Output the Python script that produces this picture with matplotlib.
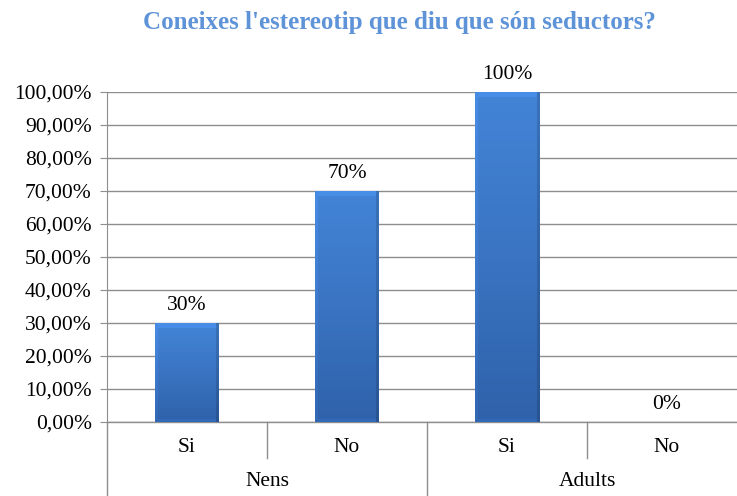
import matplotlib
matplotlib.use("Agg")
import matplotlib.pyplot as plt
import numpy as np
from matplotlib.transforms import blended_transform_factory
from matplotlib.colors import LinearSegmentedColormap

title = "Coneixes l'estereotip que diu que són seductors?"
groups = ["Nens", "Adults"]
subcats = ["Si", "No", "Si", "No"]
values = [30, 70, 100, 0]
value_labels = ["30%", "70%", "100%", "0%"]
yticks = [0, 10, 20, 30, 40, 50, 60, 70, 80, 90, 100]
ytick_labels = ["0,00%", "10,00%", "20,00%", "30,00%", "40,00%", "50,00%",
                "60,00%", "70,00%", "80,00%", "90,00%", "100,00%"]

plt.rcParams['font.family'] = ['Liberation Serif', 'DejaVu Serif']

W, H = 737, 496
FS = 15.5
fig = plt.figure(figsize=(W / 100, H / 100), dpi=100)
ax = fig.add_axes([107 / W, (H - 422) / H, 640 / W, 330 / H])

x = np.arange(len(values))
bw = 0.4
grid_c = "#8e8e8e"

ax.set_xlim(-0.5, len(values) - 0.5)
ax.set_ylim(0, 100)
ax.set_yticks(yticks)
ax.set_yticklabels(ytick_labels, fontsize=FS)
ax.set_xticks([])
ax.yaxis.grid(True, color=grid_c, linewidth=1.0)
ax.set_axisbelow(True)
for s in ["top", "right", "bottom"]:
    ax.spines[s].set_visible(False)
ax.spines["left"].set_color(grid_c)
ax.tick_params(axis="y", length=5, color=grid_c, pad=6)

cmap_v = LinearSegmentedColormap.from_list("v", ["#2f62aa", "#3a74c2", "#4384d7"])
bars = ax.bar(x, values, width=bw, color="none", edgecolor="none", zorder=2)
for b, v in zip(bars, values):
    if v <= 0:
        continue
    x0, x1 = b.get_x(), b.get_x() + b.get_width()
    hpx = v * 3.3
    ny, nx = max(int(hpx), 2), 64
    vert = np.linspace(0, 1, ny)[:, None] * np.ones((1, nx))
    rgb = cmap_v(vert)[:, :, :3]
    shade = np.ones(nx)
    shade[:3] = 1.06
    shade[-3:] = 0.86
    rgb = np.clip(rgb * shade[None, :, None], 0, 1)
    rgb[-5:, 3:-3, :] = np.clip(rgb[-5:, 3:-3, :] * 1.08, 0, 1)
    rgb[:3, 3:-3, :] = np.clip(rgb[:3, 3:-3, :] * 1.08, 0, 1)
    im = ax.imshow(rgb, extent=[x0, x1, 0, v], origin="lower",
                   aspect="auto", zorder=3, interpolation="bilinear")
    im.set_clip_path(b)
ax.set_xlim(-0.5, len(values) - 0.5)
ax.set_ylim(0, 100)

for xi, v, lab in zip(x, values, value_labels):
    ax.annotate(lab, (xi, v), xytext=(0, 6), textcoords="offset points",
                ha="center", va="bottom", fontsize=FS, color="black")

tr = blended_transform_factory(ax.transData, fig.transFigure)
for xi, lab in zip(x, subcats):
    ax.text(xi, (H - 447) / H, lab, transform=tr, ha="center", va="center",
            fontsize=FS)
for gi, g in enumerate(groups):
    ax.text(gi * 2 + 0.5, (H - 482) / H, g, transform=tr, ha="center",
            va="center", fontsize=FS)

axis_bottom = (H - 422) / H
for sx in [0.5, 2.5]:
    ax.plot([sx, sx], [axis_bottom, (H - 458) / H], transform=tr,
            color=grid_c, lw=1.0, clip_on=False)
for sx in [-0.5, 1.5]:
    ax.plot([sx, sx], [axis_bottom, 0], transform=tr,
            color=grid_c, lw=1.0, clip_on=False)
ax.plot([-0.5, len(values) - 0.5], [axis_bottom, axis_bottom], transform=tr,
        color=grid_c, lw=1.0, clip_on=False)

fig.text(399 / W, (H - 23) / H, title, ha="center", va="center",
         fontsize=18, fontweight="bold", color="#5f93d8")

fig.savefig("out.png", dpi=100)
